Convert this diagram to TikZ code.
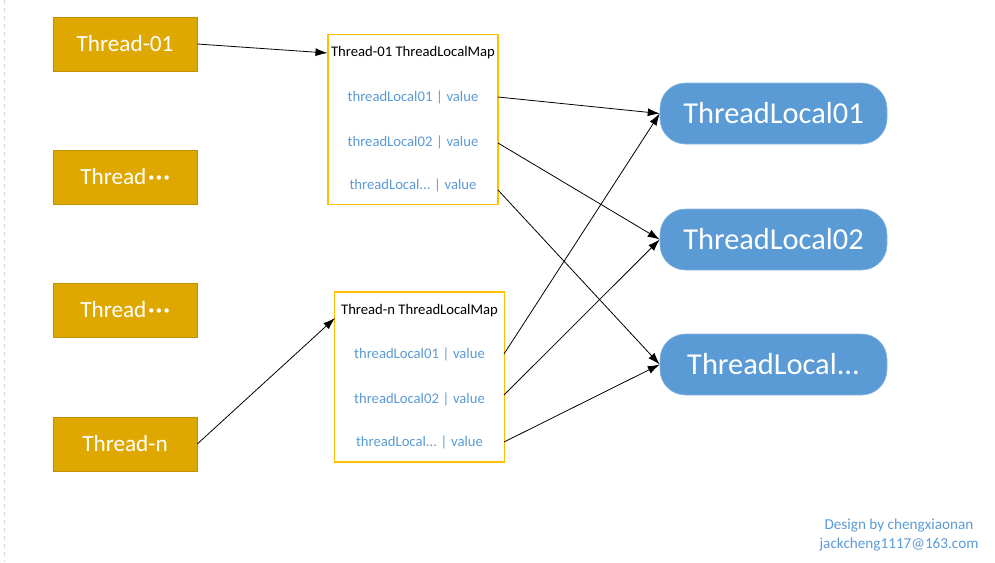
\documentclass[tikz,border=0pt]{standalone}
\usepackage{fontspec}
\setmainfont{Carlito}
\usetikzlibrary{arrows.meta}
\definecolor{gold}{HTML}{DFA800}
\definecolor{goldline}{HTML}{C09000}
\definecolor{mapline}{HTML}{FFC000}
\definecolor{tlblue}{HTML}{5B9BD5}
\definecolor{tlline}{HTML}{8DB6E0}
\newcommand{\tdots}{\textbf{\kern0.08em·\kern0.06em·\kern0.06em·}}
\newcommand{\pipesep}{\kern0.25em|\kern0.25em}
\begin{document}
\begin{tikzpicture}[x=0.75pt,y=-0.75pt,
  thread/.style={draw=goldline,fill=gold,text=white,minimum width=144*0.75pt,minimum height=54*0.75pt,inner sep=0pt,font=\fontsize{17.4}{20}\selectfont},
  mapbox/.style={draw=mapline,line width=0.8pt,fill=white,minimum width=170*0.75pt,minimum height=170*0.75pt,inner sep=0pt},
  maptitle/.style={font=\fontsize{11}{13}\selectfont,text=black,inner sep=0pt},
  maprow/.style={font=\fontsize{11}{13}\selectfont,text=tlblue,inner sep=0pt},
  tl/.style={draw=tlline,fill=tlblue,text=white,rounded corners=19pt,minimum width=227*0.75pt,minimum height=61*0.75pt,inner sep=0pt,font=\fontsize{22.8}{26}\selectfont},
  credit/.style={font=\fontsize{11.4}{13}\selectfont,text=tlblue,inner sep=0pt},
  link/.style={-{Latex[length=9pt,width=6pt]},line width=0.6pt,black}]
\useasboundingbox (0,0) rectangle (995,562);
\draw[black!15,dashed,line width=0.5pt] (4,0) -- (4,562);
% threads
\node[thread] (t1) at (125,44) {Thread-01};
\node[thread] (t2) at (125,177) {Thread\tdots};
\node[thread] (t3) at (125,310) {Thread\tdots};
\node[thread] (tn) at (125,444) {Thread-n};
% maps
\node[mapbox] (m1) at (413,119.5) {};
\node[maptitle] (m1t) at (413,53) {Thread-01 ThreadLocalMap};
\node[maprow] (r11) at (413,97) {threadLocal01\pipesep value};
\node[maprow] (r12) at (413,142) {threadLocal02\pipesep value};
\node[maprow] (r13) at (413,185) {threadLocal.{}.{}.\pipesep value};
\node[mapbox] (m2) at (419.5,377) {};
\node[maptitle] (m2t) at (419.5,311) {Thread-n ThreadLocalMap};
\node[maprow] (r21) at (419.5,354) {threadLocal01\pipesep value};
\node[maprow] (r22) at (419.5,399) {threadLocal02\pipesep value};
\node[maprow] (r23) at (419.5,442) {threadLocal.{}.{}.\pipesep value};
% thread locals
\node[tl] (l1) at (773.5,113.5) {ThreadLocal01};
\node[tl] (l2) at (773.5,239.5) {ThreadLocal02};
\node[tl] (l3) at (773.5,364.5) {ThreadLocal.{}.{}.};
% credits
\node[credit] (c1) at (899,526) {Design by chengxiaonan};
\node[credit] (c2) at (899,545) {jackcheng1117@163.com};
% anchor coordinates
\coordinate (a1) at (m1.west |- m1t);
\coordinate (a2) at (335,318);
\coordinate (s11) at (498,97);
\coordinate (s12) at (498,143);
\coordinate (s13) at (498,190);
\coordinate (s21) at (504,354);
\coordinate (s22) at (504,395);
\coordinate (s23) at (504,442);
% connectors
\draw[link] (t1.east) -- (a1);
\draw[link] (tn.east) -- (a2);
\draw[link] (s11) -- (l1.west);
\draw[link] (s12) -- (l2.west);
\draw[link] (s13) -- (l3.west);
\draw[link] (s21) -- (l1.west);
\draw[link] (s22) -- (l2.west);
\draw[link] (s23) -- (l3.west);
\end{tikzpicture}
\end{document}
